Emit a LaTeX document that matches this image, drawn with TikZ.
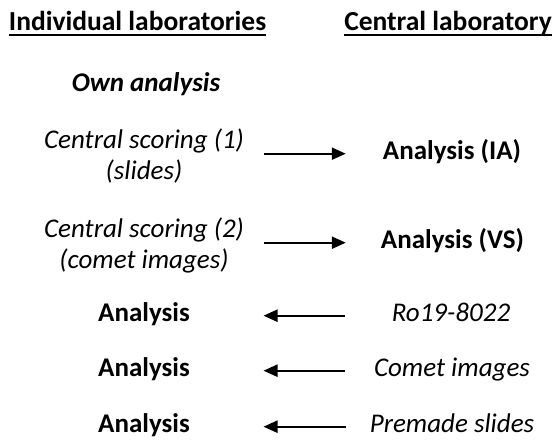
\documentclass[tikz,border=0pt]{standalone}
\usepackage{fontspec}
\setmainfont{Carlito}
\usetikzlibrary{arrows.meta}
\tikzset{
  lbl/.style={inner sep=0pt, align=center, font=\fontsize{27}{31}\selectfont},
  bold/.style={lbl, font=\fontsize{27}{31}\selectfont\bfseries},
  head/.style={lbl, font=\fontsize{27.5}{31}\selectfont\bfseries},
  ital/.style={lbl, font=\fontsize{27}{31}\selectfont\itshape},
  boldital/.style={lbl, font=\fontsize{27}{31}\selectfont\bfseries\itshape},
  arr/.style={line width=2.2pt, -{Triangle[length=14pt,width=12pt]},
    transform canvas={yshift=3pt}},
  uline/.style={line width=2pt},
}
\begin{document}
\begin{tikzpicture}[x=1pt,y=-1pt]
            \useasboundingbox (0,0) rectangle (552,441);

            \node[head,anchor=base] (indiv) at (137.5,31) {Individual laboratories};
            \node[head,anchor=base] (central) at (448,31) {Central laboratory};
            \draw[uline] ([yshift=-4pt]indiv.base west) -- ([yshift=-4pt]indiv.base east);
            \draw[uline] ([yshift=-4pt]central.base west) -- ([yshift=-4pt]central.base east);

            \node[boldital,anchor=base] (own) at (146,92) {Own analysis};

            \node[ital] (score1) at (144,156) {Central scoring (1)\\(slides)};
            \node[bold,anchor=mid] (anIA) at (452,156.7) {Analysis (IA)};
            \node[ital] (score2) at (144,245) {Central scoring (2)\\(comet images)};
            \node[bold,anchor=mid] (anVS) at (452.5,245.7) {Analysis (VS)};

            \node[bold,anchor=mid] (an1) at (144,318.7) {Analysis};
            \node[ital,anchor=mid] (ro) at (451,318.7) {Ro19-8022};
            \node[bold,anchor=mid] (an2) at (144,373.7) {Analysis};
            \node[ital,anchor=mid] (comet) at (452,373.7) {Comet images};
            \node[bold,anchor=mid] (an3) at (144,429.7) {Analysis};
            \node[ital,anchor=mid] (premade) at (452,429.7) {Premade slides};

            \draw[arr,shorten <=20pt,shorten >=37pt] (score1.east |- anIA.mid) -- (anIA.mid west);
            \draw[arr,shorten <=20pt,shorten >=35pt] (score2.east |- anVS.mid) -- (anVS.mid west);
            \draw[arr,shorten <=47pt,shorten >=73.5pt] (ro.mid west) -- (an1.mid east);
            \draw[arr,shorten <=28.5pt,shorten >=73.5pt] (comet.mid west) -- (an2.mid east);
            \draw[arr,shorten <=24pt,shorten >=73.5pt] (premade.mid west) -- (an3.mid east);
\end{tikzpicture}
\end{document}
